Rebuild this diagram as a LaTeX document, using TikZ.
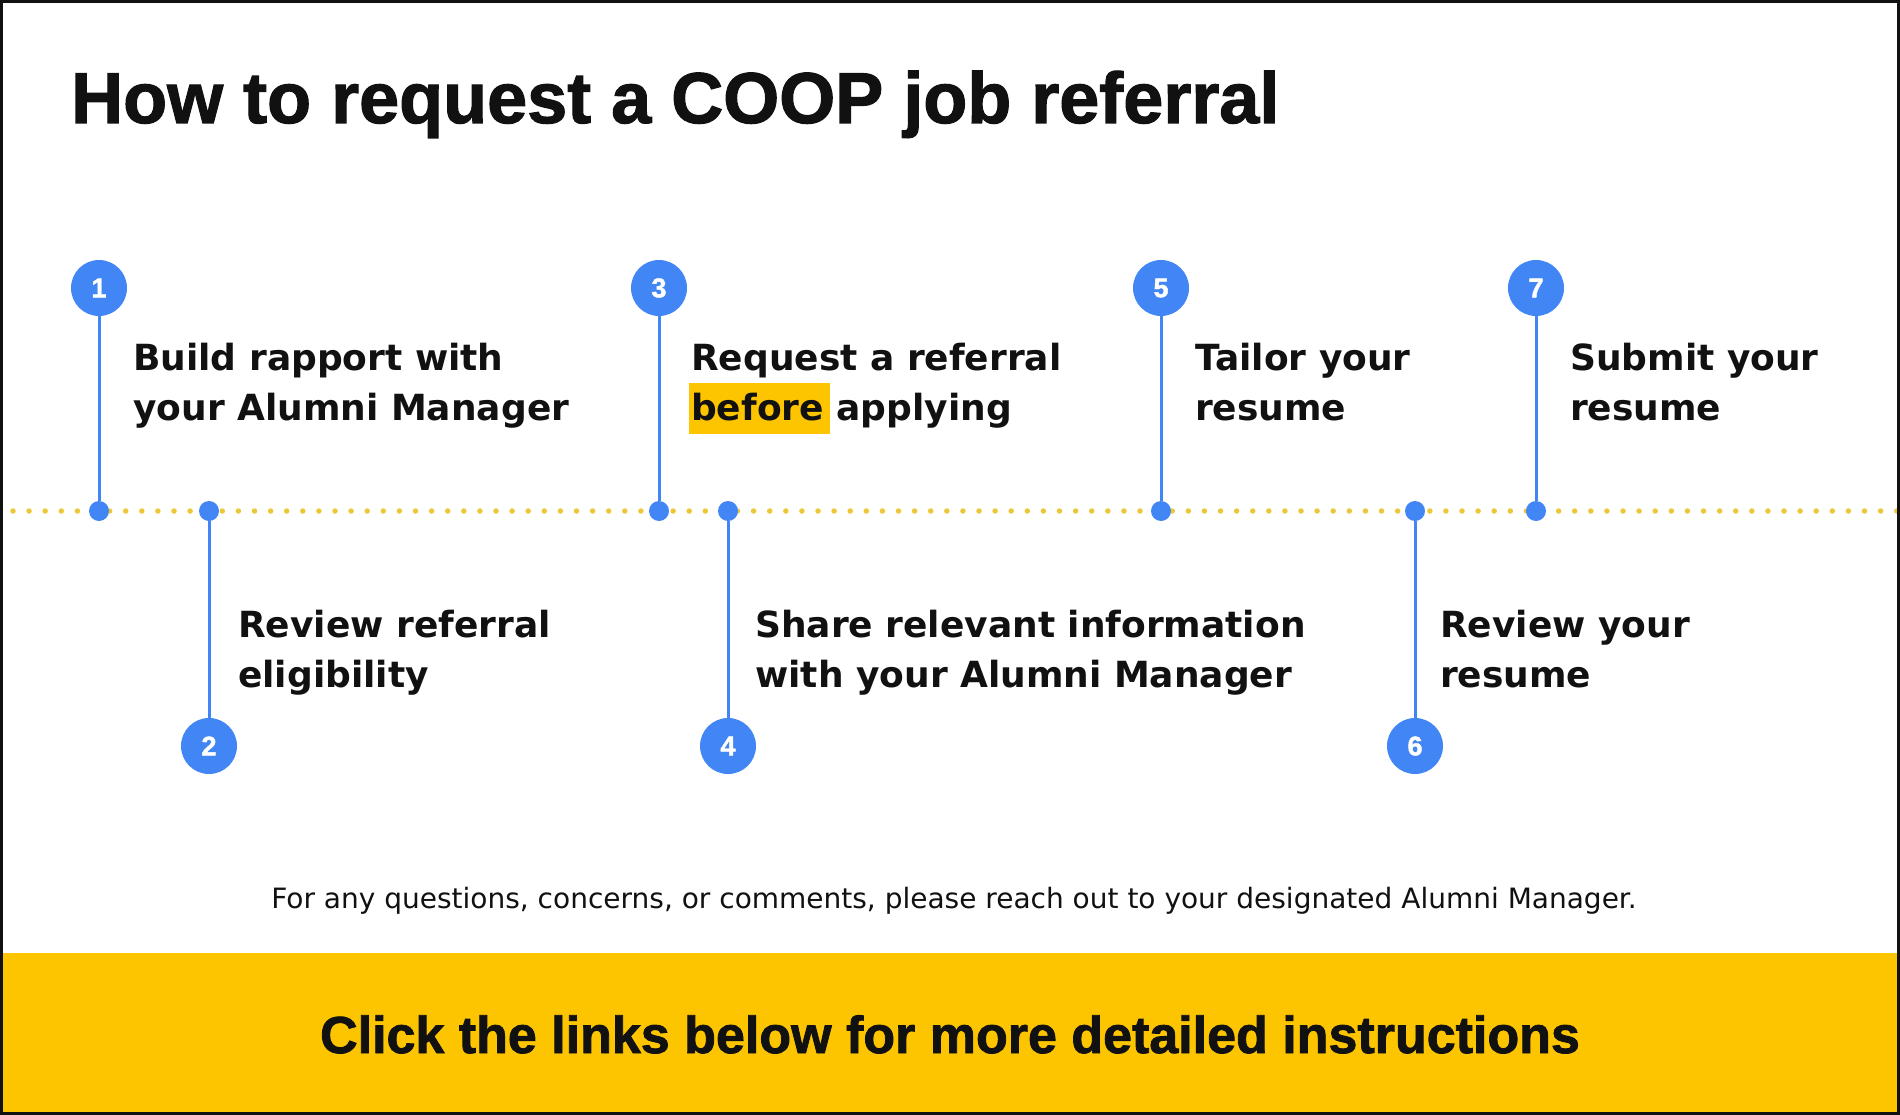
\documentclass[tikz,border=0pt]{standalone}
\usepackage{fontspec}
\setmainfont{DejaVu Sans}
\newfontfamily\headfont{Liberation Sans}[BoldFeatures={FakeBold=1.6}]
\definecolor{stepblue}{RGB}{66,133,244}
\definecolor{coopyellow}{RGB}{253,197,0}
\definecolor{dotyellow}{RGB}{236,200,56}
\definecolor{inkblack}{RGB}{17,17,17}

\begin{document}
\begin{tikzpicture}[x=1pt, y=-1pt,
    num/.style={circle, fill=stepblue, minimum size=56pt, inner sep=0pt, text=white, font=\headfont\bfseries\fontsize{27}{27}\selectfont},
    pin/.style={circle, fill=stepblue, minimum size=20pt, inner sep=0pt},
    stem/.style={stepblue, line width=3pt},
    steptext/.style={anchor=base west, inner sep=0pt, align=left, text=inkblack, font=\bfseries\fontsize{36}{50}\selectfont}]
  \useasboundingbox (0,0) rectangle (1900,1115);
  \fill[white] (0,0) rectangle (1900,1115);
  \fill[coopyellow] (0,953) rectangle (1900,1115);

  \node[anchor=base west, inner sep=0pt, text=inkblack, font=\headfont\bfseries\fontsize{72}{72}\selectfont] (title) at (71,123) {How to request a COOP job referral};

  \draw[dotyellow, line width=5.5pt, line cap=round, dash pattern=on 0pt off 16.1pt] (13,511) -- (1900,511);

  \node[num] (n1) at (99,288) {1};
  \node[num] (n2) at (209,746) {2};
  \node[num] (n3) at (659,288) {3};
  \node[num] (n4) at (728,746) {4};
  \node[num] (n5) at (1161,288) {5};
  \node[num] (n6) at (1415,746) {6};
  \node[num] (n7) at (1536,288) {7};

  \node[pin] (d1) at (99,511) {};
  \node[pin] (d2) at (209,511) {};
  \node[pin] (d3) at (659,511) {};
  \node[pin] (d4) at (728,511) {};
  \node[pin] (d5) at (1161,511) {};
  \node[pin] (d6) at (1415,511) {};
  \node[pin] (d7) at (1536,511) {};

  \draw[stem] (n1) -- (d1);
  \draw[stem] (n2) -- (d2);
  \draw[stem] (n3) -- (d3);
  \draw[stem] (n4) -- (d4);
  \draw[stem] (n5) -- (d5);
  \draw[stem] (n6) -- (d6);
  \draw[stem] (n7) -- (d7);

  \fill[coopyellow] (689,383) rectangle (830,434);

  \node[steptext] (t1) at (133,420) {Build rapport with\\your Alumni Manager};
  \node[steptext] (t2) at (238,687) {Review referral\\eligibility};
  \node[steptext] (t3) at (691,420) {Request a referral\\before applying};
  \node[steptext] (t4) at (755,687) {Share relevant information\\with your Alumni Manager};
  \node[steptext] (t5) at (1195,420) {Tailor your\\resume};
  \node[steptext] (t6) at (1440,687) {Review your\\resume};
  \node[steptext] (t7) at (1570,420) {Submit your\\resume};

  \node[anchor=base, inner sep=0pt, text=inkblack, font=\fontsize{28}{28}\selectfont] (note) at (954,908) {For any questions, concerns, or comments, please reach out to your designated Alumni Manager.};

  \node[anchor=base, inner sep=0pt, text=inkblack, font=\headfont\bfseries\fontsize{52}{52}\selectfont] (banner) at (950,1053) {Click the links below for more detailed instructions};

  \draw[inkblack, line width=3pt] (1.5,1.5) rectangle (1898.5,1113.5);
\end{tikzpicture}
\end{document}
